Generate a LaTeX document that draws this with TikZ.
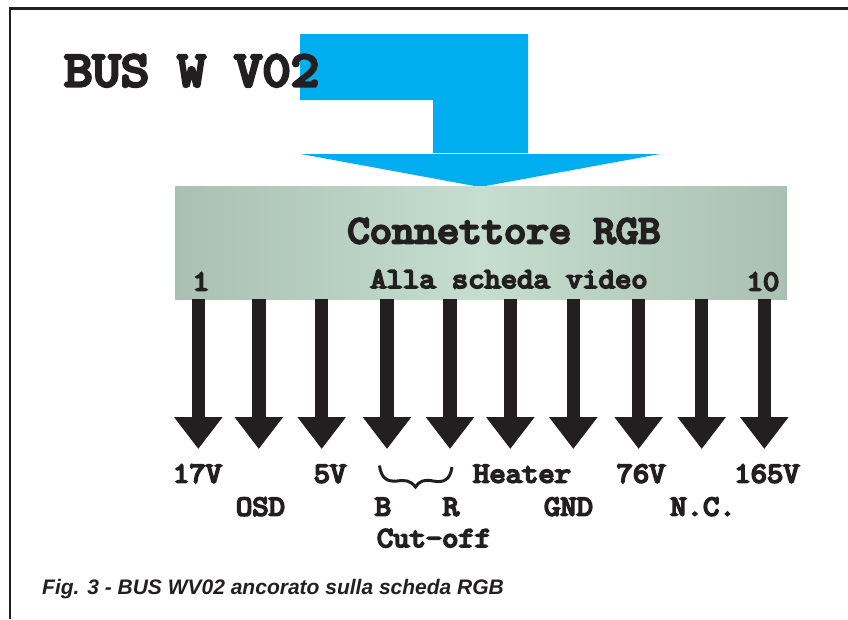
\documentclass[tikz,border=0pt]{standalone}
\usepackage{fontspec}
\usetikzlibrary{arrows.meta}
\newfontfamily\heavymono[FakeBold=6.5,FakeStretch=1.1]{Latin Modern Mono}
\newfontfamily\capfont{Liberation Sans}
\definecolor{ink}{HTML}{231F20}
\definecolor{cyanblue}{HTML}{00AEEF}
\definecolor{boxedge}{HTML}{A9C0B2}
\definecolor{boxmid}{HTML}{C5DECF}
\tikzset{
  x=1pt,y=-1pt,
  frameline/.style={draw=ink,line width=2.6pt},
  bluefill/.style={fill=cyanblue,draw=none},
  pinarrow/.style={draw=ink,line width=13.5pt,-{Triangle[width=46.5pt,length=32pt,fill=ink]}},
  monolabel/.style={font=\heavymono\fontsize{28.8}{28.8}\selectfont,text=ink,inner sep=0pt,anchor=base},
  pinlabel/.style={monolabel},
}
\begin{document}
\begin{tikzpicture}
\useasboundingbox (0,0) rectangle (848,619);
\fill[white] (0,0) rectangle (848,619);
\draw[frameline] (10,619) -- (10,8.7) -- (848,8.7);
% big blue arrow
\fill[bluefill] (300,34) -- (528,34) -- (528,153) -- (433,153) -- (433,100) -- (300,100) -- cycle;
\fill[bluefill] (301,154) -- (660,154) -- (480,187) -- cycle;
% connector box
\node[minimum width=612pt,minimum height=113.7pt,inner sep=0pt,anchor=north west,
      left color=boxedge,right color=boxedge,middle color=boxmid] (box) at (175,186) {};
\node[font=\heavymono\fontsize{50}{50}\selectfont,text=ink,inner sep=0pt,anchor=base west] (title) at (64,86) {BUS W V02};
\node[font=\heavymono\fontsize{39.5}{39.5}\selectfont,text=ink,inner sep=0pt,anchor=base] (conn) at (504,243) {Connettore RGB};
\node[monolabel] (alla) at (509,288) {Alla scheda video};
\node[monolabel] (one) at (201,290.5) {1};
\node[monolabel] (ten) at (763,290.5) {10};
% pins
\foreach \n/\x in {1/198.3,2/258.8,3/321.7,4/387,5/450,6/510.3,7/573.3,8/638.7,9/701.7,10/764.3}{
  \coordinate (top\n) at (\x,299);
  \coordinate (tip\n) at (\x,449);
  \draw[pinarrow] (top\n) -- (tip\n);
}
% labels
\node[pinlabel] (l17) at (197.5,482.5) {17V};
\node[pinlabel] (lhe) at (522,482.5) {Heater};
\node[pinlabel] (l5) at (330,482.5) {5V};
\node[pinlabel] (l76) at (641,482.5) {76V};
\node[pinlabel] (l165) at (767,482.5) {165V};
\node[pinlabel] (losd) at (260.5,515.5) {OSD};
\node[pinlabel] (lb) at (383,515.5) {B};
\node[pinlabel] (lr) at (451,515.5) {R};
\node[pinlabel] (lgnd) at (568.5,515.5) {GND};
\node[pinlabel] (lnc) at (703,515.5) {N.C.};
\node[pinlabel] (lcut) at (434,547) {Cut-off};
% brace
\draw[ink,line width=3pt,line cap=butt] (379.5,465.5) .. controls (381,478) and (387,482) .. (397,481) .. controls (405,480) and (410,480) .. (415.5,487) .. controls (419,481) and (425,479) .. (433,481) .. controls (444,483) and (450,480) .. (452,467);
\node[font=\capfont\bfseries\itshape\fontsize{21}{21}\selectfont,text=ink,inner sep=0pt,anchor=base west] (cap) at (42,594) {Fig. 3 - BUS WV02 ancorato sulla scheda RGB};
\end{tikzpicture}
\end{document}
